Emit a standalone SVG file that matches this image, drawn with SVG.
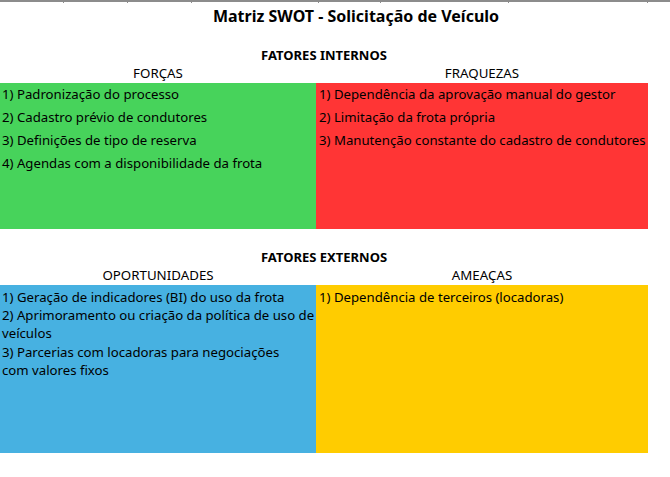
<svg xmlns="http://www.w3.org/2000/svg" width="670" height="477" viewBox="0 0 670 477">
<style>
text{font-family:"Noto Sans","Liberation Sans",sans-serif;fill:#000;}
.t{font-size:16px;font-weight:bold;}
.h{font-size:13px;font-weight:bold;}
.c{font-size:13.3px;}
.i{font-size:13.2px;}
.grid{stroke:#8c8c8c;stroke-width:1;}
</style>
<rect width="670" height="477" fill="#fff"/>
<g id="grid">
<line class="grid" x1="0" y1="0.5" x2="670" y2="0.5"/>
<line class="grid" x1="0" y1="1.5" x2="670" y2="1.5"/>
<line class="grid" x1="63.5" y1="0" x2="63.5" y2="3"/>
<line class="grid" x1="127.5" y1="0" x2="127.5" y2="3"/>
<line class="grid" x1="191.5" y1="0" x2="191.5" y2="3"/>
<line class="grid" x1="318.5" y1="0" x2="318.5" y2="3"/>
<line class="grid" x1="380.5" y1="0" x2="380.5" y2="3"/>
<line class="grid" x1="508.5" y1="0" x2="508.5" y2="3"/>
<line class="grid" x1="647.5" y1="0" x2="647.5" y2="3"/>
</g>
<text id="title" class="t" x="356" y="22" text-anchor="middle">Matriz SWOT - Solicitação de Veículo</text>
<text id="internos" class="h" x="324" y="60" text-anchor="middle">FATORES INTERNOS</text>
<text id="externos" class="h" x="324" y="262" text-anchor="middle">FATORES EXTERNOS</text>
<g id="forcas">
<text class="c" x="158" y="78" text-anchor="middle">FORÇAS</text>
<rect x="0" y="83" width="316" height="146" fill="#47d35b"/>
<text class="i" x="2" y="99">1) Padronização do processo</text>
<text class="i" x="2" y="122">2) Cadastro prévio de condutores</text>
<text class="i" x="2" y="145">3) Definições de tipo de reserva</text>
<text class="i" x="2" y="168">4) Agendas com a disponibilidade da frota</text>
</g>
<g id="fraquezas">
<text class="c" x="482" y="78" text-anchor="middle">FRAQUEZAS</text>
<rect x="316" y="83" width="332" height="146" fill="#ff3535"/>
<text class="i" x="319" y="99">1) Dependência da aprovação manual do gestor</text>
<text class="i" x="319" y="122">2) Limitação da frota própria</text>
<text class="i" x="319" y="145">3) Manutenção constante do cadastro de condutores</text>
</g>
<g id="oportunidades">
<text class="c" x="158" y="280" text-anchor="middle">OPORTUNIDADES</text>
<rect x="0" y="285" width="316" height="168" fill="#47b1e1"/>
<text class="i" x="2" y="302">1) Geração de indicadores (BI) do uso da frota</text>
<text class="i" x="2" y="320">2) Aprimoramento ou criação da política de uso de</text>
<text class="i" x="2" y="338">veículos</text>
<text class="i" x="2" y="357">3) Parcerias com locadoras para negociações</text>
<text class="i" x="2" y="375">com valores fixos</text>
</g>
<g id="ameacas">
<text class="c" x="482" y="280" text-anchor="middle">AMEAÇAS</text>
<rect x="316" y="285" width="332" height="168" fill="#ffcc00"/>
<text class="i" x="319" y="302">1) Dependência de terceiros (locadoras)</text>
</g>
<g id="connectors"/>
</svg>
